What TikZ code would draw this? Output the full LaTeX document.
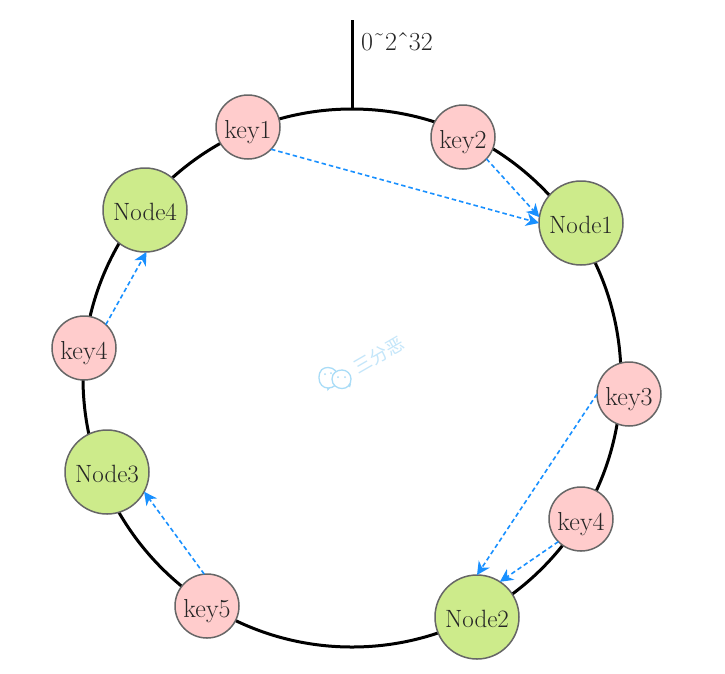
\documentclass[tikz,border=0pt]{standalone}
\usepackage{fontspec}
\newfontfamily\cjkfont{Noto Sans CJK SC}
\usetikzlibrary{arrows.meta}
\definecolor{nodegreen}{HTML}{CDEB8B}
\definecolor{keypink}{HTML}{FFCCCC}
\definecolor{edgegray}{HTML}{666666}
\definecolor{linkblue}{HTML}{1890FF}
\definecolor{wmblue}{HTML}{A9DCF7}
\definecolor{wmpale}{HTML}{C4E6FA}
\definecolor{textdark}{HTML}{262626}
\newcommand{\lowered}[2]{\raisebox{-#1}[0pt][0pt]{#2}}
\tikzset{
  x=1pt,y=-1pt,
  ringshape/.style={circle,draw=black,line width=3pt,minimum size=538pt,inner sep=0pt,outer sep=0pt},
  server/.style={circle,draw=edgegray,line width=1.5pt,fill=nodegreen,minimum size=84pt,inner sep=0pt,outer sep=0pt,text=textdark,font=\fontsize{25}{25}\selectfont},
  keyball/.style={circle,draw=edgegray,line width=1.5pt,fill=keypink,minimum size=64pt,inner sep=0pt,outer sep=0pt,text=textdark,font=\fontsize{26}{26}\selectfont},
  link/.style={draw=linkblue,line width=1.6pt,dash pattern=on 4.5pt off 3pt,-{Stealth[length=13pt,width=13pt,inset=4pt]}},
  axisline/.style={draw=black,line width=3pt},
  rangelabel/.style={inner sep=0pt,text=textdark,font=\fontsize{26}{26}\selectfont},
  wm/.style={draw=wmblue,line width=1.3pt,fill=white},
  wmtext/.style={inner sep=0pt,text=wmpale,rotate=30,font=\cjkfont\fontsize{18}{18}\selectfont}
}
\begin{document}
\begin{tikzpicture}
\useasboundingbox (0,0) rectangle (725,673);
\fill[white] (0,0) rectangle (725,673);
\node[ringshape] (ring) at (352,378) {};
\coordinate (axistop) at (352,20);
\draw[axisline] (axistop) -- (ring.north);
\node[rangelabel,anchor=base west] (range) at (361,50) {0^^^^02dc2^^^^02c632};
% watermark
\draw[wm] (319,378) .. controls (319,370) and (323,367.5) .. (328,367.5) .. controls (334,367.5) and (338,372) .. (338,378) .. controls (338,384) and (334,388) .. (328,388) .. controls (323,388) and (319,384) .. (319,378) -- cycle;
\draw[wm] (332,379) .. controls (332,373) and (337,370) .. (342,370) .. controls (347,370) and (351,374) .. (351,379) .. controls (351,385) and (347,388.5) .. (342,388.5) .. controls (337,388.5) and (332,385) .. (332,379) -- cycle;
\fill[wmblue] (327,388) -- (330,388) -- (327.5,391) -- cycle;
\fill[wmblue] (348,385) -- (351,384) -- (350,387.5) -- cycle;
\fill[wmblue] (325,374) circle (1pt) (331,373) circle (1pt) (338,377) circle (1pt) (345,377) circle (1pt);
\node[wmtext] (wmword) at (379,355) {三分恶};
% servers and keys
\node[server] (n1) at (581,223) {\lowered{10pt}{Node1}};
\node[server] (n2) at (477,617) {\lowered{10pt}{Node2}};
\node[server] (n3) at (107,472) {\lowered{10pt}{Node3}};
\node[server] (n4) at (145,210) {\lowered{10pt}{Node4}};
\node[keyball] (k1) at (248,127) {\lowered{11pt}{key1}};
\node[keyball] (k2) at (463,137) {\lowered{11pt}{key2}};
\node[keyball] (k3) at (629,394) {\lowered{11pt}{key3}};
\node[keyball] (k4b) at (581,519) {\lowered{11pt}{key4}};
\node[keyball] (k5) at (207,606) {\lowered{11pt}{key5}};
\node[keyball] (k4) at (84,348) {\lowered{11pt}{key4}};
% links
\draw[link] (k1.-44) -- (n1.west);
\draw[link] (k2.-43) -- (n1.172);
\draw[link] (k3.west) -- (n2.north);
\draw[link] (k4b.south west) -- (n2.57);
\draw[link] (k4.47) -- (n4.-88);
\draw[link] (k5.95) -- (n3.-28);
\end{tikzpicture}
\end{document}
